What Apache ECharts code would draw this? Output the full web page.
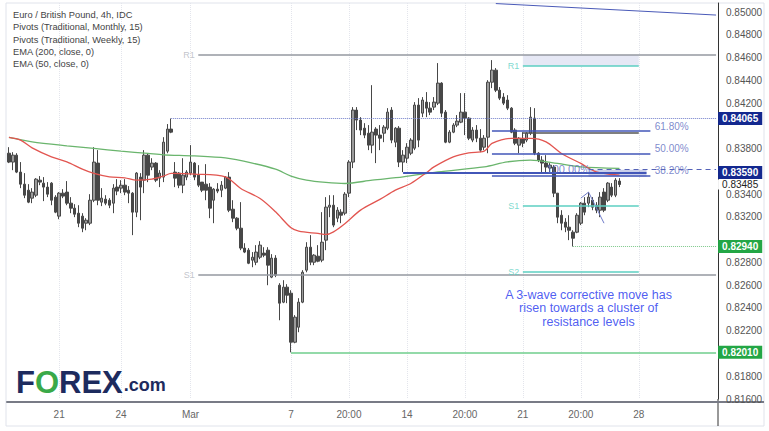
<!DOCTYPE html>
<html>
<head>
<meta charset="utf-8">
<script src="https://cdn.jsdelivr.net/npm/echarts@6.0.0/dist/echarts.min.js"></script>
<style>
html,body{margin:0;padding:0;background:#fff;}
#chart{width:769px;height:431px;}
</style>
</head>
<body>
<div id="chart"></div>
<script>
// ---------- DATA ----------
const legendLines = ['Euro / British Pound, 4h, IDC','Pivots (Traditional, Monthly, 15)','Pivots (Traditional, Weekly, 15)','EMA (200, close, 0)','EMA (50, close, 0)'];
const slotCount = 184;
const tickIndex = [13,29,47,73,88,103,118,133,148,163];
const tickLabels = ['21','24','Mar','7','20:00','14','20:00','21','20:00','28'];

const opens = [
0.83760,0.83682,0.83743,0.83594,0.83488,0.83435,0.83365,0.83391,0.83523,0.83497,
0.83462,0.83497,0.83374,0.83207,0.83409,0.83418,0.83321,0.83277,0.83233,0.83207,
0.83145,0.83145,0.83347,0.83673,0.83330,0.83356,0.83347,0.83321,0.83462,0.83453,
0.83479,0.83435,0.83409,0.83242,0.83550,0.83523,0.83743,0.83638,0.83673,0.83541,
0.83550,0.83778,0.83972,0.83594,0.83585,0.83479,0.83550,0.83585,0.83673,0.83567,
0.83506,0.83488,0.83462,0.83347,0.83444,0.83435,0.83453,0.83550,0.83268,0.83189,
0.83101,0.82926,0.82908,0.82820,0.82802,0.82846,0.82882,0.82908,0.82671,0.82838,
0.82600,0.82451,0.82583,0.82530,0.82099,0.82231,0.82451,0.82732,0.82934,0.82802,
0.82855,0.82820,0.82996,0.83286,0.83303,0.83189,0.83242,0.83233,0.83409,0.83682,
0.84139,0.84051,0.83980,0.83936,0.83831,0.83972,0.83919,0.83936,0.83980,0.84139,
0.83857,0.83980,0.83682,0.83716,0.83760,0.83804,0.84183,0.84112,0.84209,0.84156,
0.84165,0.84200,0.84376,0.84121,0.83857,0.83945,0.84007,0.84033,0.84121,0.84068,
0.83875,0.83963,0.83892,0.83813,0.83901,0.84384,0.84490,0.84314,0.84253,0.84227,
0.84156,0.83963,0.83831,0.83884,0.83875,0.83936,0.84068,0.83760,0.83699,0.83673,
0.83629,0.83638,0.83409,0.83215,0.83154,0.83110,0.83066,0.83066,0.83145,0.83321,
0.83321,0.83347,0.83303,0.83259,0.83418,0.83347,0.83462,0.83391,0.83515];
const closes = [
0.83682,0.83743,0.83594,0.83488,0.83391,0.83330,0.83418,0.83532,0.83506,0.83462,
0.83400,0.83347,0.83242,0.83409,0.83383,0.83321,0.83277,0.83224,0.83145,0.83101,
0.83171,0.83347,0.83682,0.83347,0.83365,0.83321,0.83303,0.83453,0.83427,0.83479,
0.83418,0.83409,0.83242,0.83585,0.83462,0.83743,0.83567,0.83673,0.83523,0.83585,
0.83857,0.83972,0.83945,0.83541,0.83479,0.83567,0.83594,0.83682,0.83550,0.83479,
0.83435,0.83435,0.83277,0.83444,0.83427,0.83479,0.83550,0.83259,0.83189,0.83101,
0.82926,0.82891,0.82793,0.82846,0.82891,0.82952,0.82864,0.82776,0.82838,0.82688,
0.82442,0.82583,0.82512,0.82099,0.82319,0.82451,0.82714,0.82934,0.82802,0.82864,
0.82811,0.82978,0.83286,0.83303,0.83128,0.83259,0.83215,0.83400,0.83682,0.84139,
0.84051,0.83963,0.83919,0.83831,0.83945,0.83919,0.83892,0.83989,0.84121,0.83875,
0.83980,0.83682,0.83743,0.83813,0.83875,0.84183,0.83875,0.84227,0.84156,0.84121,
0.84209,0.84376,0.84112,0.83857,0.83945,0.84007,0.84042,0.84121,0.84068,0.83892,
0.83963,0.83892,0.83787,0.83892,0.84384,0.84490,0.84314,0.84244,0.84200,0.84156,
0.83945,0.83848,0.83892,0.83848,0.83936,0.84077,0.83760,0.83699,0.83673,0.83638,
0.83655,0.83409,0.83198,0.83145,0.83110,0.83083,0.83013,0.83215,0.83321,0.83242,
0.83374,0.83286,0.83259,0.83374,0.83259,0.83497,0.83391,0.83523,0.83485];
const lows = [
0.83673,0.83611,0.83585,0.83453,0.83365,0.83321,0.83321,0.83374,0.83479,0.83339,
0.83374,0.83303,0.83233,0.83180,0.83365,0.83303,0.83233,0.83198,0.83110,0.83066,
0.83083,0.83128,0.83330,0.83303,0.83295,0.83303,0.83277,0.83233,0.83391,0.83409,
0.83391,0.83321,0.83040,0.83198,0.83171,0.83409,0.83506,0.83611,0.83506,0.83462,
0.83506,0.83760,0.83936,0.83462,0.83453,0.83409,0.83523,0.83567,0.83523,0.83462,
0.83418,0.83347,0.83189,0.83145,0.83409,0.83374,0.83444,0.83242,0.83154,0.83083,
0.82908,0.82882,0.82785,0.82758,0.82776,0.82829,0.82846,0.82600,0.82662,0.82671,
0.82292,0.82442,0.82442,0.82010,0.82090,0.82187,0.82442,0.82714,0.82776,0.82776,
0.82802,0.82802,0.82908,0.83198,0.83110,0.83154,0.83145,0.83215,0.83374,0.83629,
0.83963,0.83919,0.83892,0.83787,0.83760,0.83673,0.83787,0.83857,0.83963,0.83848,
0.83813,0.83638,0.83594,0.83673,0.83743,0.83787,0.83813,0.84077,0.84077,0.84095,
0.84139,0.84183,0.84077,0.83848,0.83848,0.83936,0.83989,0.84024,0.83919,0.83875,
0.83857,0.83857,0.83769,0.83787,0.83760,0.84332,0.84297,0.84227,0.84183,0.84139,
0.83936,0.83831,0.83760,0.83813,0.83857,0.83919,0.83743,0.83682,0.83594,0.83585,
0.83585,0.83374,0.83145,0.83083,0.83066,0.82996,0.82940,0.83057,0.83128,0.83215,
0.83286,0.83259,0.83233,0.83198,0.83242,0.83330,0.83374,0.83374,0.83462];
const highs = [
0.83813,0.83769,0.83760,0.83682,0.83585,0.83488,0.83453,0.83541,0.83559,0.83550,
0.83506,0.83506,0.83391,0.83418,0.83444,0.83515,0.83374,0.83312,0.83303,0.83233,
0.83189,0.83400,0.83813,0.83787,0.83453,0.83391,0.83365,0.83488,0.83532,0.83523,
0.83532,0.83471,0.83418,0.83594,0.83585,0.83787,0.83760,0.83716,0.83682,0.83611,
0.83901,0.84016,0.84065,0.83682,0.83594,0.83716,0.83611,0.83831,0.83682,0.83655,
0.83506,0.83664,0.83497,0.83453,0.83497,0.83515,0.83559,0.83594,0.83347,0.83198,
0.83330,0.82969,0.82926,0.82891,0.82952,0.82987,0.82934,0.82934,0.82873,0.82864,
0.82618,0.82644,0.82609,0.82556,0.82337,0.82486,0.82732,0.82978,0.83040,0.82873,
0.82952,0.83242,0.83374,0.83391,0.83391,0.83286,0.83268,0.83418,0.83699,0.84165,
0.84165,0.84077,0.84024,0.84007,0.84358,0.83989,0.84007,0.84007,0.84156,0.84165,
0.83989,0.83998,0.83787,0.83848,0.83892,0.84209,0.84244,0.84253,0.84297,0.84209,
0.84253,0.84552,0.84384,0.84139,0.83963,0.84024,0.84095,0.84288,0.84288,0.84077,
0.83989,0.84007,0.83972,0.83919,0.84402,0.84578,0.84508,0.84341,0.84288,0.84270,
0.84165,0.83980,0.83901,0.83945,0.83945,0.84165,0.84156,0.83769,0.83734,0.83743,
0.83673,0.83655,0.83409,0.83259,0.83189,0.83215,0.83083,0.83233,0.83330,0.83374,
0.83418,0.83374,0.83330,0.83418,0.83453,0.83506,0.83497,0.83541,0.83541];

const ema200Idx = [0,6,15,22,29,36,40,48,56,63,69,73,77,82,87,94,102,111,123,129,135,142,148,158];
const ema200 = [0.83899,0.83860,0.83825,0.83802,0.83778,0.83758,0.83746,0.83737,0.83719,0.83673,0.83620,0.83559,0.83523,0.83503,0.83494,0.83523,0.83552,0.83596,0.83640,0.83684,0.83699,0.83670,0.83640,0.83626];
const ema50Idx = [0,3,6,11,15,19,22,26,30,33,37,40,42,48,56,60,65,69,73,75,80,82,84,87,91,96,100,104,108,110,115,119,123,125,130,135,139,143,148,152,158];
const ema50 = [0.83899,0.83875,0.83807,0.83728,0.83684,0.83620,0.83582,0.83552,0.83544,0.83523,0.83532,0.83559,0.83582,0.83576,0.83552,0.83450,0.83362,0.83245,0.83104,0.83075,0.83055,0.83046,0.83069,0.83143,0.83260,0.83354,0.83435,0.83494,0.83588,0.83640,0.83728,0.83763,0.83778,0.83846,0.83890,0.83890,0.83860,0.83758,0.83670,0.83596,0.83567];

const monthlyNames = ['R1','S1'];
const monthlyLevels = [0.84622,0.82689];
const weeklyNames = ['R1','S1','S2'];
const weeklyLevels = [0.84526,0.83296,0.82716];
const weeklyPivot = 0.83937;
const fibNames = ['61.80%','50.00%','38.20%'];
const fibLevels = [0.83957,0.83756,0.83563];
const fibLabelLevels = [0.83992,0.83805,0.83611];
const resistanceHigh = 0.84065;
const resistanceLow = 0.83590;
const dashedLevel = 0.83615;
const swingLow = 0.82940;
const majorLow = 0.82010;
const lastPrice = 0.83485;
const tagLevels = [0.84065,0.83590,0.82940,0.82010];
const trendIdx = [126,183];
const trendVals = [0.85075,0.84974];
const waveIdx = [148,150,154];
const waveVals = [0.83365,0.83418,0.83145];
const annotation = ['A 3-wave corrective move has','risen towards a cluster of','resistance levels'];

// ---------- CHART ----------
const FONT = 'Liberation Sans';
const chart = echarts.init(document.getElementById('chart'), null, {renderer:'svg'});
const cats = Array.from({length: slotCount}, (_, i) => String(i));
const labelFor = i => { const k = tickIndex.indexOf(i); return k >= 0 ? tickLabels[k] : ''; };
const last = slotCount - 1;

function hline(v, from, to, style, label) {
  return [{coord:[from, v], lineStyle: style, label: label || {show:false}}, {coord:[to, v]}];
}
function tag(text, bg, fg) {
  return {show:true, position:'end', distance:2, formatter:text, color:fg||'#fff', backgroundColor:bg,
          padding:[2,4,1,4], fontSize:10, fontFamily:FONT, fontWeight:'bold'};
}
const navy = '#13288f', green = '#23a645', teal = '#5ccfc2', fibBlue = '#4256b8';

const markLines = [];
monthlyLevels.forEach(v => markLines.push(hline(v, 49, last, {color:'#9598a1', width:1.5, type:'solid'})));
weeklyLevels.forEach(v => markLines.push(hline(v, 133, 163, {color:teal, width:1.5, type:'solid'})));
markLines.push(hline(weeklyPivot, 133, 163, {color:'#555', width:1.5, type:'solid'}));
fibLevels.forEach(v => markLines.push(hline(v, 125, 166, {color:fibBlue, width:1.6, type:'solid'})));
markLines.push(hline(resistanceHigh, 42, last, {color:'#6f7cc9', width:1, type:'dotted'}, tag('0.84065', navy)));
markLines.push(hline(resistanceLow, 102, 165, {color:fibBlue, width:2, type:'solid'}));
markLines.push(hline(dashedLevel, 150, last, {color:'#5563b8', width:1.2, type:[5,4]}));
markLines.push(hline(resistanceLow, last-1, last, {color:'rgba(0,0,0,0)', width:0}, tag('0.83590', navy)));
markLines.push(hline(lastPrice, last-1, last, {color:'rgba(0,0,0,0)', width:0}, {show:true, position:'end', distance:2, formatter:'0.83485', color:'#222', backgroundColor:'#fff', padding:[0,4,0,4], fontSize:10, fontFamily:FONT}));
markLines.push(hline(swingLow, 146, last, {color:'#7cc88a', width:1, type:'dotted'}, tag('0.82940', green)));
markLines.push(hline(majorLow, 73, last, {color:'#6fce8c', width:1.5, type:'solid'}, tag('0.82010', green)));

const textPoints = [];
monthlyNames.forEach((n, k) => textPoints.push({value:[49, monthlyLevels[k]], label:{show:true, position:'left', distance:3, formatter:n, color:'#b2b5be', fontSize:9, fontFamily:FONT}}));
weeklyNames.forEach((n, k) => textPoints.push({value:[133, weeklyLevels[k]], label:{show:true, position:'left', distance:3, formatter:n, color:teal, fontSize:9, fontFamily:FONT}}));
fibNames.forEach((n, k) => textPoints.push({value:[167, fibLabelLevels[k]], label:{show:true, position:'right', distance:0, formatter:n, color:'#5c6bc0', fontSize:10, fontFamily:FONT}}));
textPoints.push({value:[139, 0.83625], label:{show:true, position:'right', distance:0, formatter:'100.00%', color:'#5c6bc0', fontSize:11, fontFamily:FONT}});
textPoints.push({value:[150, 0.82398], label:{show:true, position:'inside', formatter:annotation.join('\n'), color:'#2233ee', fontSize:12.5, lineHeight:13.5, align:'center', fontFamily:FONT}});

const option = {
  animation:false,
  backgroundColor:'#fff',
  textStyle:{fontFamily:FONT},
  title:[
    {text:legendLines.join('\n'), left:13, top:9, padding:0,
     textStyle:{fontSize:9.3, fontWeight:'normal', color:'#444', lineHeight:12.3, fontFamily:FONT}},
    {text:'{f|F}{o|O}{f|REX}{c|.com}', left:16, top:366, padding:0,
     textStyle:{rich:{
       f:{fontSize:31, fontWeight:'bold', color:'#1d2b5e', fontFamily:FONT, lineHeight:32},
       o:{fontSize:31, fontWeight:'bold', color:'#3aa948', fontFamily:FONT, lineHeight:32},
       c:{fontSize:18, fontWeight:'bold', color:'#1d2b5e', fontFamily:FONT, lineHeight:32, padding:[6,0,0,1]}
     }}}
  ],
  graphic:[
    {type:'rect', shape:{x:6, y:3, width:758, height:423}, style:{fill:'none', stroke:'#e0e3eb', lineWidth:1}, z:-1},
    {type:'line', shape:{x1:718, y1:399, x2:718, y2:426}, style:{stroke:'#333', lineWidth:1}},
    {type:'line', shape:{x1:718, y1:402, x2:764, y2:402}, style:{stroke:'#787b86', lineWidth:2}}
  ],
  grid:{left:7, right:51, top:3, bottom:32},
  xAxis:{
    type:'category', data:cats, boundaryGap:true, offset:3,
    axisLine:{show:true, lineStyle:{color:'#787b86', width:2}},
    axisTick:{show:false},
    axisLabel:{interval:(i) => tickIndex.indexOf(i) >= 0, formatter:(v, i) => labelFor(i), color:'#666', fontSize:10, margin:7, fontFamily:FONT},
    splitLine:{show:true, alignWithLabel:true, interval:(i) => tickIndex.indexOf(i) >= 0, lineStyle:{color:'#e3e5ec', type:'dotted', width:1}}
  },
  yAxis:{
    type:'value', position:'right', min:0.816, max:0.8508, interval:0.002, scale:true,
    axisLine:{show:true, lineStyle:{color:'#333', width:1}},
    axisTick:{show:false},
    splitLine:{show:false},
    axisLabel:{showMaxLabel:false, color:'#555', fontSize:10, margin:8, fontFamily:FONT,
      formatter:(v) => tagLevels.some(t => Math.abs(t - v) < 0.0008) ? '' : v.toFixed(5)}
  },
  series:[
    {type:'line', name:'levels', data:[], z:1,
     markArea:{silent:true, data:[
       [{coord:[133, monthlyLevels[0]], itemStyle:{color:'#e6e8f5'}}, {coord:[163, weeklyLevels[0]]}],
       [{coord:[150, dashedLevel], itemStyle:{color:'rgba(63,81,181,0.28)'}}, {coord:[165, fibLevels[2]-0.0001]}]
     ]},
     markLine:{silent:true, symbol:['none','none'], label:{show:false}, data:markLines}
    },
    {type:'candlestick', name:'EUR/GBP', z:3, barWidth:3,
     data:opens.map((o, i) => [o, closes[i], lows[i], highs[i]]),
     itemStyle:{color:'#9b9b9b', color0:'#474747', borderColor:'#474747', borderColor0:'#474747', borderWidth:1}
    },
    {type:'line', name:'EMA 200', z:4, smooth:0.3, symbol:'none',
     data:ema200Idx.map((x, k) => [x, ema200[k]]), lineStyle:{color:'#6ab56d', width:1.3}},
    {type:'line', name:'EMA 50', z:4, smooth:0.3, symbol:'none',
     data:ema50Idx.map((x, k) => [x, ema50[k]]), lineStyle:{color:'#e25550', width:1.3}},
    {type:'line', name:'trend', z:4, symbol:'none', clip:false,
     data:trendIdx.map((x, k) => [x, trendVals[k]]), lineStyle:{color:'#4a5ab8', width:1}},
    {type:'line', name:'wave', z:4, symbol:'none',
     data:waveIdx.map((x, k) => [x, waveVals[k]]), lineStyle:{color:'#6f7cc9', width:1}},
    {type:'scatter', name:'labels', z:6, symbolSize:1, itemStyle:{color:'rgba(0,0,0,0)'}, silent:true,
     data:textPoints}
  ]
};
chart.setOption(option);
</script>
</body>
</html>
